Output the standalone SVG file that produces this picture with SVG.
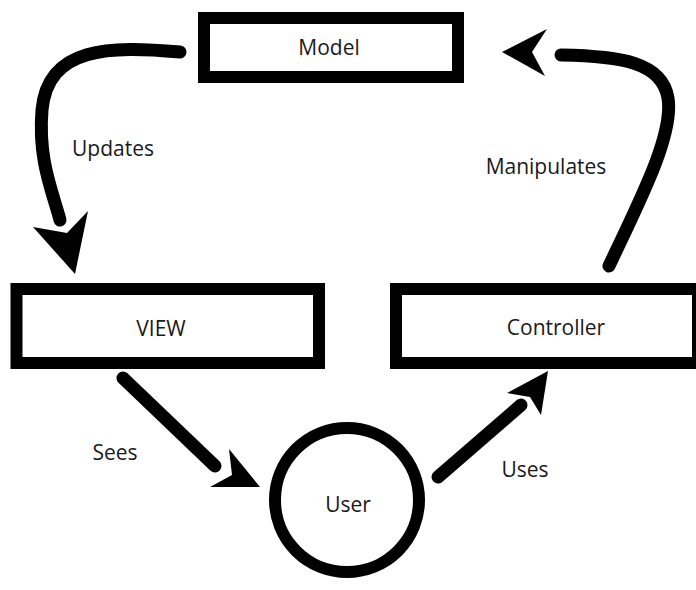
<svg xmlns="http://www.w3.org/2000/svg" width="696" height="590" viewBox="0 0 696 590">
  <style>
    .box { fill: #ffffff; stroke: #000000; stroke-width: 12; }
    .label { font-family: "Open Sans", "Noto Sans", "Liberation Sans", sans-serif; font-size: 21px; fill: #1a1a1a; text-anchor: middle; dominant-baseline: central; }
    .wire { fill: none; stroke: #000000; stroke-width: 13; stroke-linecap: round; }
    .head { fill: #000000; }
  </style>
  <rect width="696" height="590" fill="#ffffff"/>

  <g id="connectors">
    <!-- Model -> VIEW -->
    <g id="updates">
      <path class="wire" d="M180,52 C110,46 48,46 42,110 C38,160 52,190 60,220"/>
      <polygon class="head" points="33,227 67,233 88,211 75,274"/>
    </g>
    <!-- Controller -> Model -->
    <g id="manipulates">
      <path class="wire" d="M609,266 C640,200 674,135 668,98 C662,62 620,56 561,55"/>
      <polygon class="head" points="502,52 547,29 532,52 545,76"/>
    </g>
    <!-- VIEW -> User -->
    <g id="sees">
      <path class="wire" d="M123,378 L215,466"/>
      <polygon class="head" points="229,449 232,475 210,487 260,487"/>
    </g>
    <!-- User -> Controller -->
    <g id="uses">
      <path class="wire" d="M438,477 L521,405"/>
      <polygon class="head" points="548,371 507,393 530,397 541,415"/>
    </g>
    <text class="label" x="113" y="148">Updates</text>
    <text class="label" x="546" y="166">Manipulates</text>
    <text class="label" x="115" y="452">Sees</text>
    <text class="label" x="525" y="469">Uses</text>
  </g>

  <g id="model">
    <rect class="box" x="204" y="18" width="254" height="59"/>
    <text class="label" x="329" y="47">Model</text>
  </g>
  <g id="view">
    <rect class="box" x="16.5" y="289" width="302.5" height="74"/>
    <text class="label" x="161" y="328">VIEW</text>
  </g>
  <g id="controller">
    <rect class="box" x="396" y="289" width="302" height="74"/>
    <text class="label" x="556" y="327">Controller</text>
  </g>
  <g id="user">
    <ellipse class="box" cx="347" cy="500" rx="72" ry="72"/>
    <text class="label" x="348" y="504">User</text>
  </g>
</svg>
